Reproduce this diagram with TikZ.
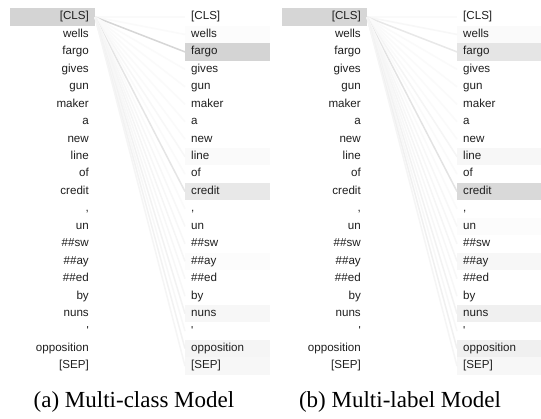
\documentclass[tikz,border=0pt]{standalone}
\usepackage{fontspec}
\setmainfont{Liberation Serif}
\newfontfamily\tokfont{Liberation Sans}
\tikzset{
  tok/.style={font=\tokfont\fontsize{11.6}{13}\selectfont, text=black!88,
    inner xsep=6pt, inner ysep=0pt, text width=73pt, minimum height=17.45pt,
    text height=8.3pt, text depth=2.4pt},
  ltok/.style={tok, align=right, anchor=east},
  rtok/.style={tok, align=left, anchor=west},
  att/.style={line width=1.5pt},
  captxt/.style={font=\fontsize{23}{27}\selectfont, text=black, inner sep=0pt}
}
\begin{document}
\begin{tikzpicture}[x=1pt,y=-1pt]
\useasboundingbox[fill=white] (0,0) rectangle (541,419);
\foreach \t/\lfa/\lfb/\fa/\la/\fb/\lb [count=\i from 0] in {
  {[CLS]}/17/16/0/2/0/2,
  wells/0/0/1/2/2/3,
  fargo/0/0/17/16/10/9,
  gives/0/0/0/2/0/2,
  gun/0/0/0/2/0/2,
  maker/0/0/0/2/0/2,
  a/0/0/0/2/0/2,
  new/0/0/0/2/0/2,
  line/0/0/2/3/3/4,
  of/0/0/0/2/0/2,
  credit/0/0/9/10/15/11,
  {,}/0/0/0/2/0/2,
  un/0/0/0/3/1/3,
  {\#\#sw}/0/0/0/3/0/3,
  {\#\#ay}/0/0/1/4/3/4,
  {\#\#ed}/0/0/0/3/0/3,
  by/0/0/0/3/0/3,
  nuns/0/0/3/5/6/5,
  '/0/0/0/3/0/3,
  opposition/0/0/4/5/6/6,
  {[SEP]}/0/0/3/4/3/4}
{
  \pgfmathsetmacro\yy{17+17.45*\i}
  \node[ltok, fill=black!\lfa] (aL\i) at (95,\yy) {\t};
  \node[rtok, fill=black!\fa] (aR\i) at (185,\yy) {\t};
  \node[ltok, fill=black!\lfb] (bL\i) at (367,\yy) {\t};
  \node[rtok, fill=black!\fb] (bR\i) at (457,\yy) {\t};
  \draw[att, draw=black!\la] (aL0.east) -- (aR\i.west);
  \draw[att, draw=black!\lb] (bL0.east) -- (bR\i.west);
}
\node[captxt] (capa) at (134,402) {(a) Multi-class Model};
\node[captxt] (capb) at (400,402) {(b) Multi-label Model};
\end{tikzpicture}
\end{document}
